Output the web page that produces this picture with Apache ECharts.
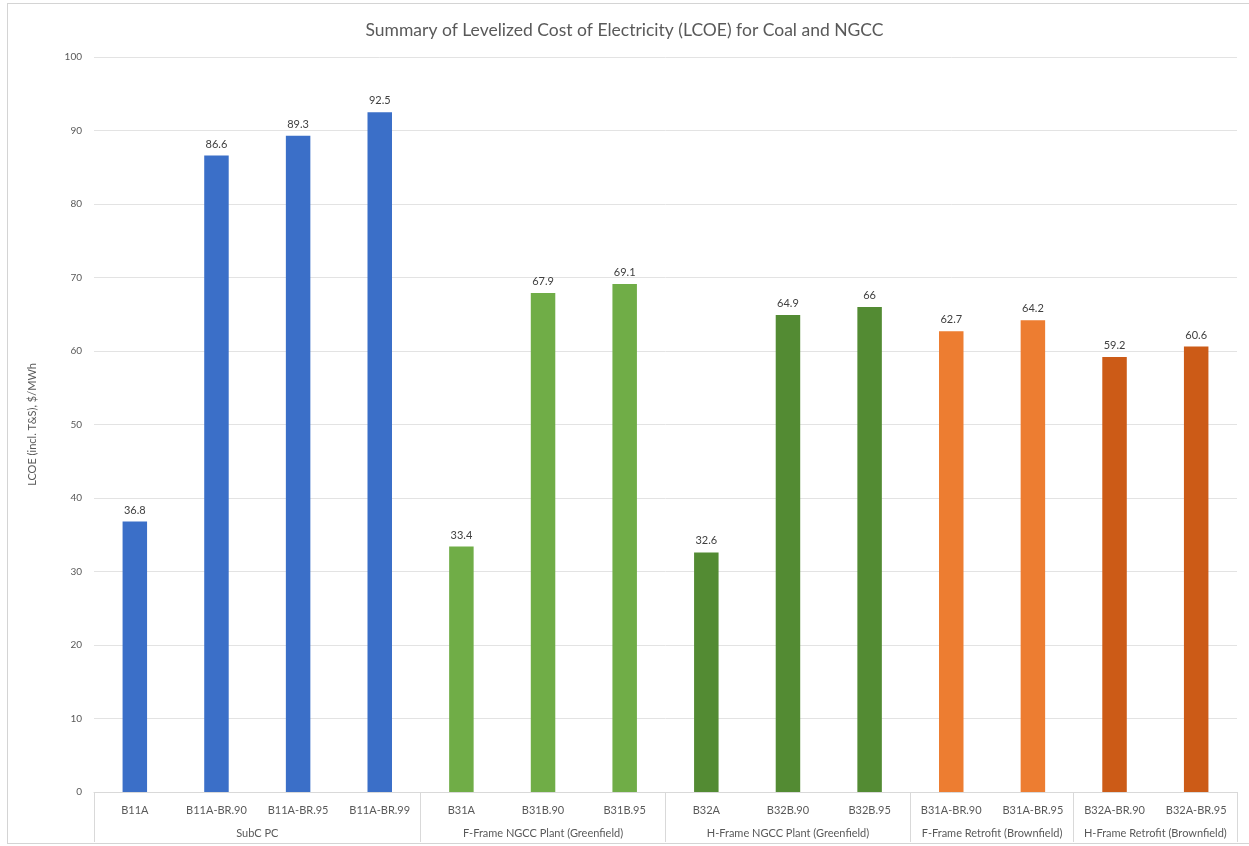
<!DOCTYPE html>
<html>
<head>
<meta charset="utf-8">
<title>LCOE Summary</title>
<script src="https://cdn.jsdelivr.net/npm/echarts@6/dist/echarts.min.js"></script>
<style>
  html, body { margin: 0; padding: 0; background: #ffffff; }
  #chart { position: absolute; left: 0; top: 0; width: 1249px; height: 846px; }
  #frame { position: absolute; left: 7px; top: 3px; width: 1250px; height: 839px;
           border: 1px solid #d4d4d4; pointer-events: none; }
</style>
</head>
<body>
<div id="chart"></div>
<div id="frame"></div>
<script>
// Cases, in plotting order
const cases = [
  'B11A', 'B11A-BR.90', 'B11A-BR.95', 'B11A-BR.99',
  'B31A', 'B31B.90', 'B31B.95',
  'B32A', 'B32B.90', 'B32B.95',
  'B31A-BR.90', 'B31A-BR.95',
  'B32A-BR.90', 'B32A-BR.95'
];
// LCOE including transport & storage, $/MWh
const lcoe = [36.8, 86.6, 89.3, 92.5, 33.4, 67.9, 69.1, 32.6, 64.9, 66, 62.7, 64.2, 59.2, 60.6];
// Plant groups and how many cases each contains
const groupNames = [
  'SubC PC',
  'F-Frame NGCC Plant (Greenfield)',
  'H-Frame NGCC Plant (Greenfield)',
  'F-Frame Retrofit (Brownfield)',
  'H-Frame Retrofit (Brownfield)'
];
const groupSizes = [4, 3, 3, 2, 2];
const groupColors = ['#3b6fc8', '#70ad47', '#538b33', '#ed7d31', '#cc5b17'];
const yTicks = { min: 0, max: 100, step: 10 };

// Derived group boundaries / centres on a 0..N scale
const bounds = [0];
groupSizes.forEach(s => bounds.push(bounds[bounds.length - 1] + s));
const centres = groupSizes.map((s, i) => bounds[i] + s / 2);
const groupOf = [];
groupSizes.forEach((s, g) => { for (let k = 0; k < s; k++) groupOf.push(g); });

const FONT = 'Lato, "Open Sans", sans-serif';
const chart = echarts.init(document.getElementById('chart'), null, { renderer: 'canvas' });

chart.setOption({
  animation: false,
  backgroundColor: '#ffffff',
  textStyle: { fontFamily: FONT },
  title: {
    text: 'Summary of Levelized Cost of Electricity (LCOE) for Coal and NGCC',
    left: 'center',
    top: 16,
    textStyle: { fontFamily: FONT, fontSize: 17.5, fontWeight: 'normal', color: '#595959' }
  },
  grid: { left: 94, right: 12, top: 57, bottom: 54, containLabel: false },
  xAxis: [
    {
      type: 'category',
      data: cases,
      position: 'bottom',
      axisLine: { show: true, lineStyle: { color: '#d9d9d9', width: 1 } },
      axisTick: { show: false },
      axisLabel: { color: '#595959', fontSize: 11, margin: 13, interval: 0, fontFamily: FONT },
      splitLine: { show: false }
    },
    {
      type: 'value',
      min: bounds[0],
      max: bounds[bounds.length - 1],
      position: 'bottom',
      axisLine: { show: false },
      axisTick: {
        show: true,
        inside: false,
        length: 50,
        customValues: bounds,
        lineStyle: { color: '#d9d9d9', width: 1 }
      },
      axisLabel: {
        show: true,
        customValues: centres,
        margin: 36,
        color: '#595959',
        fontSize: 11,
        fontFamily: FONT,
        formatter: v => {
          const i = centres.findIndex(c => Math.abs(c - v) < 1e-6);
          return i >= 0 ? groupNames[i] : '';
        }
      },
      splitLine: { show: false }
    }
  ],
  yAxis: {
    type: 'value',
    min: yTicks.min,
    max: yTicks.max,
    interval: yTicks.step,
    name: 'LCOE (incl. T&S), $/MWh',
    nameLocation: 'middle',
    nameGap: 56,
    nameTextStyle: { color: '#595959', fontSize: 11, fontFamily: FONT },
    axisLine: { show: false },
    axisTick: { show: false },
    axisLabel: { color: '#595959', fontSize: 10, margin: 12, fontFamily: FONT },
    splitLine: { lineStyle: { color: '#e3e3e3', width: 1 } }
  },
  series: [
    {
      type: 'bar',
      xAxisIndex: 0,
      barWidth: '30%',
      data: lcoe.map((v, i) => ({ value: v, itemStyle: { color: groupColors[groupOf[i]] } })),
      label: {
        show: true,
        position: 'top',
        distance: 6,
        color: '#404040',
        fontSize: 11,
        fontFamily: FONT
      }
    }
  ]
});
</script>
</body>
</html>
